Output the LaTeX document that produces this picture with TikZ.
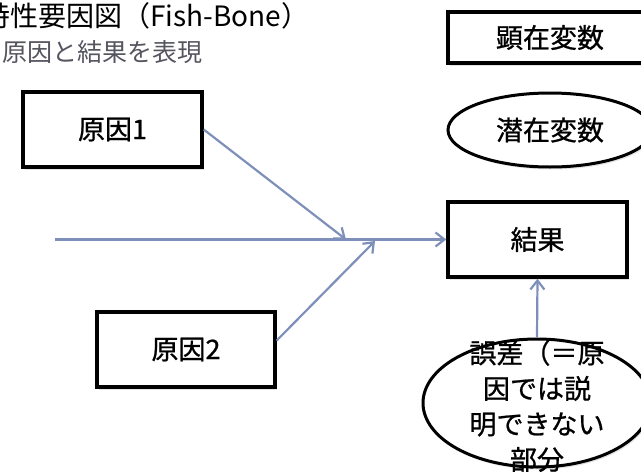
\documentclass[tikz,border=0pt]{standalone}
\usepackage{fontspec}
\setmainfont{Noto Sans CJK JP}
\newfontfamily\nodefont{Noto Sans CJK JP}[FakeBold=0.8]
\usetikzlibrary{arrows.meta,shapes.geometric,shadows}
\definecolor{fishblue}{RGB}{126,143,186}
\definecolor{subgray}{RGB}{85,85,96}
\tikzset{
  box/.style={draw=black, line width=3.4pt, fill=white, rectangle, inner sep=0pt,
    drop shadow={opacity=0.22, shadow xshift=1.5pt, shadow yshift=-2.5pt},
    font=\nodefont\fontsize{27}{32}\selectfont},
  ell/.style={draw=black, line width=3pt, fill=white, ellipse, inner sep=0pt,
    drop shadow={opacity=0.22, shadow xshift=1.5pt, shadow yshift=-2.5pt},
    font=\nodefont\fontsize{27}{32}\selectfont},
  arr/.style={draw=fishblue, line width=2.2pt, -{Straight Barb[length=9pt,width=14pt]}},
}
\begin{document}
\begin{tikzpicture}[x=1pt,y=-1pt]
\useasboundingbox (0,0) rectangle (641,472);
% titles (the first character is cut by the left edge, as in the reference)
\node[anchor=west, inner sep=0pt, font=\fontsize{28}{32}\selectfont] (title) at (-18,16) {特性要因図（Fish-Bone）};
\node[anchor=west, inner sep=0pt, text=subgray, font=\fontsize{25}{30}\selectfont] (sub) at (2,52) {原因と結果を表現};
% legend
\node[box, minimum width=204pt, minimum height=51pt] (obs) at (550,37.5) {顕在変数};
\node[ell, minimum width=204pt, minimum height=74pt] (lat) at (550,130) {潜在変数};
% causes and result
\node[box, minimum width=179pt, minimum height=75pt] (c1) at (112.5,129.5) {原因1};
\node[box, minimum width=178pt, minimum height=75pt] (c2) at (186,349.5) {原因2};
\node[box, minimum width=179pt, minimum height=75pt] (res) at (537.5,239.5) {結果};
% error ellipse
\node[ell, minimum width=228pt, minimum height=128pt] (err) at (537,403) {};
\node[inner sep=0pt, align=center, font=\nodefont\fontsize{27}{35.5}\selectfont] (errtext) at (537,406) {誤差（＝原\\因では説\\明できない\\部分};
% connectors
\coordinate (start) at (55,239.5);
\coordinate (j1) at (346,239.5);
\coordinate (j2) at (375,241);
\draw[arr] (start) -- (res.west);
\draw[arr] (c1.east) -- (j1);
\draw[arr] ([yshift=9pt]c2.east) -- (j2);
\draw[arr] (err.north) -- (res.south);
\end{tikzpicture}
\end{document}
